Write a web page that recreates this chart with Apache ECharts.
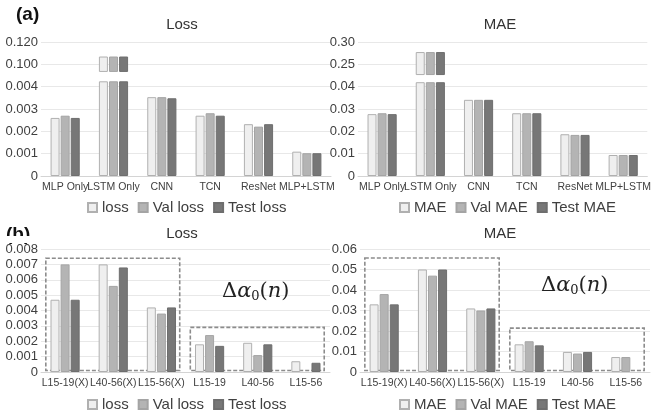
<!DOCTYPE html>
<html>
<head>
<meta charset="utf-8">
<script src="https://cdn.jsdelivr.net/npm/echarts@6/dist/echarts.min.js"></script>
<style>
  html, body { margin: 0; padding: 0; background: #fff; }
  #chart { width: 654px; height: 420px; }
</style>
</head>
<body>
<div id="chart"></div>
<script>
// (a) model comparison, broken y axis
const modelNames = ["MLP Only", "LSTM Only", "CNN", "TCN", "ResNet", "MLP+LSTM"];
const lossTicks = [0, 0.001, 0.002, 0.003, 0.004, 0.100, 0.120];
const lossTickLabels = ["0", "0.001", "0.002", "0.003", "0.004", "0.100", "0.120"];
const maeTicks = [0, 0.01, 0.02, 0.03, 0.04, 0.25, 0.30];
const maeTickLabels = ["0", "0.01", "0.02", "0.03", "0.04", "0.25", "0.30"];

const lossA = [0.0026, 0.107, 0.00353, 0.0027, 0.00232, 0.00109];
const valLossA = [0.0027, 0.107, 0.00353, 0.00281, 0.00221, 0.00102];
const testLossA = [0.0026, 0.107, 0.00348, 0.0027, 0.00232, 0.00102];
const maeA = [0.0277, 0.2775, 0.0341, 0.0281, 0.0187, 0.0094];
const valMaeA = [0.0281, 0.2775, 0.0341, 0.0281, 0.0184, 0.0094];
const testMaeA = [0.0277, 0.2775, 0.0341, 0.0281, 0.0184, 0.0094];

// (b) layer ranges
const layerNames = ["L15-19(X)", "L40-56(X)", "L15-56(X)", "L15-19", "L40-56", "L15-56"];
const lossB = [0.0047, 0.0070, 0.0042, 0.0018, 0.0019, 0.0007];
const valLossB = [0.0070, 0.0056, 0.0038, 0.0024, 0.0011, 0];
const testLossB = [0.0047, 0.0068, 0.0042, 0.0017, 0.0018, 0.0006];
const maeB = [0.033, 0.050, 0.031, 0.0135, 0.0098, 0.0073];
const valMaeB = [0.038, 0.047, 0.030, 0.015, 0.009, 0.0073];
const testMaeB = [0.033, 0.050, 0.031, 0.013, 0.0098, 0];

// dashed groups in (b): [first, last, top value]
const lossBoxes = [[0, 2, 0.0074], [3, 5, 0.0029]];
const maeBoxes = [[0, 2, 0.0556], [3, 5, 0.0214]];

const FONT = "Liberation Sans, Arial, sans-serif";
const styles = [
  { color: "#efefef", borderColor: "#b0b0b0", borderWidth: 1 },
  { color: "#b4b4b4", borderColor: "#a4a4a4", borderWidth: 1 },
  { color: "#777777", borderColor: "#6e6e6e", borderWidth: 1 }
];

// piecewise position on the broken axis (tick index units)
function toIndex(v, ticks) {
  for (let i = 1; i < ticks.length; i++) {
    if (v <= ticks[i]) {
      return i - 1 + (v - ticks[i - 1]) / (ticks[i] - ticks[i - 1]);
    }
  }
  return ticks.length - 1;
}

const barBase = { type: "bar", barWidth: 9, barGap: "12%", barCategoryGap: "38%" };

function brokenSeries(names, lists, ticks, gi, brk) {
  const out = [];
  lists.forEach((values, k) => {
    const d = values.map((v) => toIndex(v, ticks));
    const st = "s" + gi + "_" + k;
    const common = Object.assign({}, barBase, { stack: st, xAxisIndex: gi, yAxisIndex: gi });
    out.push(Object.assign({}, common, {
      name: names[k], itemStyle: styles[k],
      data: d.map((x) => (x > brk[1] ? brk[0] : x))
    }));
    out.push(Object.assign({}, common, {
      name: names[k] + "_gap", itemStyle: { color: "transparent" },
      data: d.map((x) => (x > brk[1] ? brk[1] - brk[0] : "-"))
    }));
    out.push(Object.assign({}, common, {
      name: names[k] + "_top", itemStyle: styles[k],
      data: d.map((x) => (x > brk[1] ? x - brk[1] : "-"))
    }));
  });
  return out;
}

function plainSeries(names, lists, gi) {
  return lists.map((values, k) => Object.assign({}, barBase, {
    name: names[k], xAxisIndex: gi, yAxisIndex: gi, itemStyle: styles[k],
    data: values.map((v) => (v === 0 ? "-" : v))
  }));
}

const lossNames = ["loss", "Val loss", "Test loss"];
const maeNames = ["MAE", "Val MAE", "Test MAE"];

const grids = [
  { left: 41, right: 323, top: 42, height: 134 },
  { left: 358, right: 6, top: 42, height: 134 },
  { left: 41, right: 324, top: 249, height: 123 },
  { left: 360, right: 4, top: 249, height: 123 }
];

function xAxis(gi, cats) {
  return {
    type: "category", gridIndex: gi, data: cats,
    axisTick: { show: false },
    axisLine: { lineStyle: { color: "#d4d4d4" } },
    axisLabel: { color: "#404040", fontSize: 10.5, fontFamily: FONT, margin: 6, interval: 0 }
  };
}

function yAxis(gi, extra) {
  return Object.assign({
    type: "value", gridIndex: gi, min: 0,
    splitLine: { lineStyle: { color: "#e8e8e8" } },
    axisLine: { show: false }, axisTick: { show: false }
  }, extra);
}

function yLabel(fmt) {
  return { color: "#404040", fontSize: 13, fontFamily: FONT, margin: 3, formatter: fmt };
}

function legend(names, left, top) {
  return {
    data: names, left: left, top: top, icon: "rect", padding: 0,
    itemWidth: 9, itemHeight: 9, itemGap: 9, selectedMode: false,
    textStyle: { color: "#404040", fontSize: 15, fontFamily: FONT }
  };
}

function title(text, x, y) {
  return {
    text: text, left: x, top: y, textAlign: "center",
    textStyle: { color: "#333", fontSize: 15, fontWeight: "normal", fontFamily: FONT }
  };
}

const chart = echarts.init(document.getElementById("chart"));

chart.setOption({
  animation: false,
  backgroundColor: "#fff",
  title: [title("Loss", 177, 12), title("MAE", 495, 12), title("Loss", 177, 221), title("MAE", 495, 221)],
  legend: [legend(lossNames, 87, 200), legend(maeNames, 399, 200), legend(lossNames, 87, 397), legend(maeNames, 399, 397)],
  grid: grids,
  xAxis: [xAxis(0, modelNames), xAxis(1, modelNames), xAxis(2, layerNames), xAxis(3, layerNames)],
  yAxis: [
    yAxis(0, { max: 6, interval: 1, axisLabel: yLabel((v) => lossTickLabels[v]) }),
    yAxis(1, { max: 6, interval: 1, axisLabel: yLabel((v) => maeTickLabels[v]) }),
    yAxis(2, { max: 0.008, interval: 0.001, axisLabel: yLabel((v) => (v === 0 ? "0" : v.toFixed(3))) }),
    yAxis(3, { max: 0.06, interval: 0.01, axisLabel: yLabel((v) => (v === 0 ? "0" : v.toFixed(2))) })
  ],
  series: [].concat(
    brokenSeries(lossNames, [lossA, valLossA, testLossA], lossTicks, 0, [4.24, 4.66]),
    brokenSeries(maeNames, [maeA, valMaeA, testMaeA], maeTicks, 1, [4.2, 4.52]),
    plainSeries(lossNames, [lossB, valLossB, testLossB], 2),
    plainSeries(maeNames, [maeB, valMaeB, testMaeB], 3)
  )
});

// annotations: dashed group boxes, Δα0(n) labels, panel letters
function boxes(gi, list) {
  const finder = { xAxisIndex: gi, yAxisIndex: gi };
  const c0 = chart.convertToPixel(finder, [0, 0]);
  const c1 = chart.convertToPixel(finder, [1, 0]);
  const band = c1[0] - c0[0];
  return list.map(([a, b, top]) => {
    const pa = chart.convertToPixel(finder, [a, top]);
    const pb = chart.convertToPixel(finder, [b, 0]);
    const x0 = pa[0] - band * 0.4;
    const x1 = pb[0] + band * 0.38;
    return {
      type: "rect", silent: true,
      shape: { x: x0, y: pa[1], width: x1 - x0, height: pb[1] - pa[1] - 1.5 },
      style: { fill: "none", stroke: "#8c8c8c", lineWidth: 1.6, lineDash: [4, 2] }
    };
  });
}

const deltaText = {
  text: "{d|Δ}{a|α}{s|0}{d|(}{a|n}{d|)}",
  rich: {
    d: { fontSize: 21, fontFamily: "DejaVu Serif, serif", fill: "#222" },
    a: { fontSize: 21, fontFamily: "DejaVu Serif, serif", fontStyle: "italic", fill: "#222" },
    s: { fontSize: 13, fontFamily: "DejaVu Serif, serif", fill: "#222", padding: [10, 0, 0, 0] }
  }
};

chart.setOption({
  graphic: [].concat(
    boxes(2, lossBoxes),
    boxes(3, maeBoxes),
    [
      { type: "text", left: 222, top: 281, style: deltaText },
      { type: "text", left: 541, top: 275, style: deltaText },
      { type: "text", left: 16, top: 5, style: { text: "(a)", fontSize: 19, fontWeight: "bold", fontFamily: FONT, fill: "#111" } },
      { type: "text", left: 6, top: 225, style: { text: "(b)", fontSize: 19, fontWeight: "bold", fontFamily: FONT, fill: "#111" } },
      { type: "rect", left: 0, top: 236, shape: { width: 42, height: 7 }, style: { fill: "#fff" } }
    ]
  )
});
</script>
</body>
</html>
